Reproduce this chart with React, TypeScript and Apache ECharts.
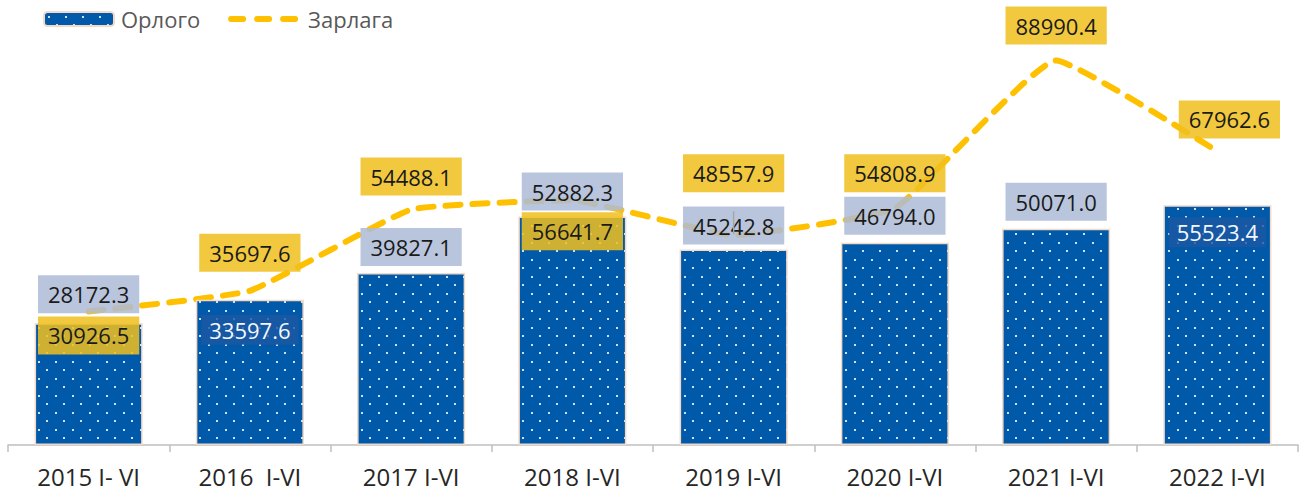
import React, { useEffect, useRef } from "react";
import * as echarts from "echarts";

const categories = ["2015 I- VI", "2016  I-VI", "2017 I-VI", "2018 I-VI", "2019 I-VI", "2020 I-VI", "2021 I-VI", "2022 I-VI"];
const incomeValues = [28172.3, 33597.6, 39827.1, 52882.3, 45242.8, 46794.0, 50071.0, 55523.4];
const expenseValues = [30926.5, 35697.6, 54488.1, 56641.7, 48557.9, 54808.9, 88990.4, 67962.6];
const seriesNames = ["Орлого", "Зарлага"];

const FONT = "'Open Sans', 'Noto Sans', sans-serif";

function makePattern(): HTMLCanvasElement {
  const c = document.createElement("canvas");
  c.width = 17;
  c.height = 17;
  const ctx = c.getContext("2d")!;
  ctx.fillStyle = "#0059a9";
  ctx.fillRect(0, 0, 17, 17);
  ctx.fillStyle = "rgba(220,232,248,0.95)";
  ctx.fillRect(4, 4, 2, 2);
  ctx.fillRect(12, 12, 2, 2);
  return c;
}

const barLabelCfg: any[] = [
  { position: "top", distance: 10 },
  { position: "insideTop", distance: 15, inside: true },
  { position: "top", distance: 7 },
  { position: "top", distance: 6 },
  { position: "top", distance: 5 },
  { position: "top", distance: 8 },
  { position: "top", distance: 8 },
  { position: "insideTop", distance: 12, inside: true },
];

const lineLabelCfg: any[] = [
  { position: "bottom", distance: 4 },
  { position: "top", distance: 18 },
  { position: "top", distance: 13 },
  { position: "bottom", distance: 11 },
  { position: "top", distance: 42, leader: true },
  { position: "top", distance: 15 },
  { position: "top", distance: 15 },
  { position: "top", distance: 12, offset: [12, 0] },
];

export default function App() {
  const ref = useRef<HTMLDivElement>(null);
  useEffect(() => {
    if (!ref.current) return;
    const chart = echarts.init(ref.current, null, { renderer: "svg" });
    const pattern = makePattern();
    const fmt = (p: any) => Number(p.value).toFixed(1);

    const barData = incomeValues.map((v, i) => {
      const c = barLabelCfg[i];
      return {
        value: v,
        label: c.inside
          ? {
              position: c.position,
              distance: c.distance,
              color: "#f4f7fc",
              backgroundColor: "rgba(28,88,162,0.8)",
              padding: [4, 8],
            }
          : { position: c.position, distance: c.distance },
      };
    });

    const labelData = expenseValues.map((v, i) => {
      const c = lineLabelCfg[i];
      const item: any = {
        value: v,
        label: { position: c.position, distance: c.distance, offset: c.offset || [0, 0] },
      };
      if (c.leader) {
        item.labelLine = { show: true, lineStyle: { color: "#a6a6a6", width: 1.5 } };
      }
      return item;
    });

    const lineStyle = { color: "#ffc000", width: 6, type: [15, 12], cap: "round" };

    chart.setOption({
      animation: false,
      backgroundColor: "#ffffff",
      textStyle: { fontFamily: FONT },
      legend: {
        left: 43,
        top: 8,
        itemWidth: 70,
        itemHeight: 14,
        itemGap: 28,
        padding: 0,
        textStyle: { fontSize: 22, color: "#595959", fontFamily: FONT, padding: [0, 0, 0, 2] },
        data: [
          { name: seriesNames[0] },
          {
            name: seriesNames[1],
            itemStyle: { color: "rgba(0,0,0,0)", borderWidth: 0 },
            lineStyle: { color: "#ffc000", width: 6, type: [12, 14], cap: "round" },
          },
        ],
      },
      grid: { left: 8, right: 6, top: 13, bottom: 48, containLabel: false, outerBoundsMode: "none" },
      xAxis: {
        type: "category",
        data: categories,
        boundaryGap: true,
        axisLine: { lineStyle: { color: "#bfbfbf", width: 1.5 } },
        axisTick: { show: true, length: 7, lineStyle: { color: "#bfbfbf", width: 1.5 } },
        axisLabel: { fontSize: 24, color: "#262626", margin: 19, fontFamily: FONT },
      },
      yAxis: {
        type: "value",
        min: 0,
        max: 100000,
        show: false,
        splitLine: { show: false },
      },
      series: [
        {
          name: seriesNames[1],
          type: "line",
          z: 1,
          smooth: 0.12,
          symbol: "none",
          lineStyle,
          itemStyle: { color: "#ffc000" },
          data: expenseValues,
        },
        {
          name: seriesNames[0],
          type: "bar",
          barCategoryGap: "33%",
          z: 2,
          itemStyle: {
            color: { image: pattern, repeat: "repeat" },
            borderColor: "#f3d9c6",
            borderWidth: 1.5,
          },
          label: {
            show: true,
            formatter: fmt,
            fontSize: 22,
            fontFamily: FONT,
            color: "#1a1a1a",
            backgroundColor: "rgba(173,187,215,0.85)",
            padding: [8, 10],
          },
          data: barData,
        },
        {
          name: "labels",
          type: "scatter",
          z: 5,
          symbol: "circle",
          symbolSize: 2,
          itemStyle: { color: "rgba(0,0,0,0)", opacity: 1 },
          silent: true,
          label: {
            show: true,
            formatter: fmt,
            fontSize: 22,
            fontFamily: FONT,
            color: "#1a1a1a",
            backgroundColor: "rgba(240,192,30,0.86)",
            padding: [8, 10],
          },
          data: labelData,
        },
      ],
    });
    return () => chart.dispose();
  }, []);
  return (
    <div
      ref={ref}
      style={{ position: "fixed", left: 0, top: 0, width: 1304, height: 493 }}
    />
  );
}
